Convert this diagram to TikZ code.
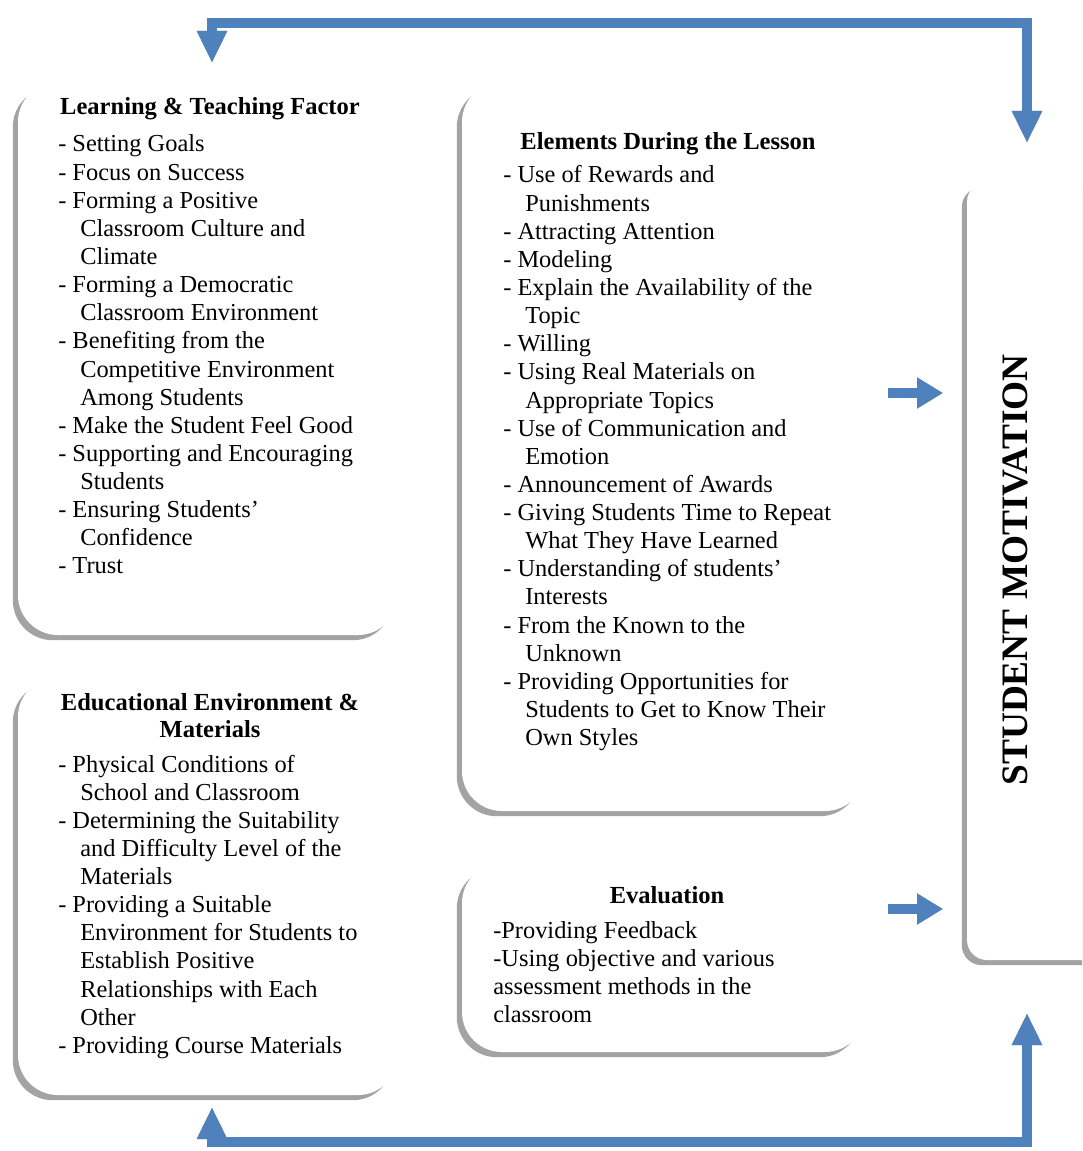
\documentclass[tikz,border=0pt]{standalone}
\usepackage{fontspec}
\setmainfont{Liberation Serif}
\usetikzlibrary{arrows.meta,shadows}

\definecolor{flowblue}{HTML}{4F81BD}
\definecolor{flowshade}{HTML}{9C9C9C}
\definecolor{panelshade}{HTML}{A3A3A3}

\newcommand{\cont}{\hspace*{16.5pt}}

\tikzset{
  panel/.style={rectangle, rounded corners=30pt, fill=white, draw=none,
    drop shadow={shadow xshift=-3.9pt, shadow yshift=-3.9pt, fill=panelshade, opacity=1}},
  bodytext/.style={inner sep=0pt, anchor=base west,
    font=\fontsize{18.3}{21.1}\selectfont},
  headtext/.style={inner sep=0pt, anchor=base,
    font=\fontsize{18.4}{20.3}\selectfont\bfseries},
  flowline/.style={line width=7.5pt, draw=flowblue, line join=miter},
  flowshadow/.style={line width=7.5pt, draw=flowshade, line join=miter},
  twohead/.style={{Triangle[width=21pt,length=24pt]}-{Triangle[width=21pt,length=24pt]}},
  onehead/.style={-{Triangle[width=22pt,length=19.5pt]}}
}

\begin{document}
\begin{tikzpicture}[x=0.75pt, y=-0.75pt]
\clip (0,0) rectangle (1082,1151);
\fill[white] (0,0) rectangle (1082,1151);

% panels
\node[panel, minimum width=285pt, minimum height=414.75pt] (learn) at (208,358.5) {};
\node[panel, minimum width=285pt, minimum height=313.5pt] (envir) at (208,886) {};
\node[panel, minimum width=302.25pt, minimum height=546.75pt] (lesson) at (663.5,446.5) {};
\node[panel, minimum width=302.25pt, minimum height=141.75pt] (evalu) at (663.5,957.5) {};
\node[panel, rounded corners=15pt, minimum width=122.25pt, minimum height=583.5pt] (motiv) at (1048.5,571) {};

% panel texts
\node[headtext] (learnhead) at (210,115) {Learning \& Teaching Factor};
\node[bodytext] (learnlist) at (58,152) {\begin{tabular}[t]{@{}l@{}}
- Setting Goals\\
- Focus on Success\\
- Forming a Positive\\
\cont Classroom Culture and\\
\cont Climate\\
- Forming a Democratic\\
\cont Classroom Environment\\
- Benefiting from the\\
\cont Competitive Environment\\
\cont Among Students\\
- Make the Student Feel Good\\
- Supporting and Encouraging\\
\cont Students\\
- Ensuring Students'\\
\cont Confidence\\
- Trust
\end{tabular}};

\node[headtext] (envirhead) at (210,710) {\begin{tabular}[t]{@{}c@{}}
Educational Environment \&\\ Materials\end{tabular}};
\node[bodytext] (envirlist) at (58,772) {\begin{tabular}[t]{@{}l@{}}
- Physical Conditions of\\
\cont School and Classroom\\
- Determining the Suitability\\
\cont and Difficulty Level of the\\
\cont Materials\\
- Providing a Suitable\\
\cont Environment for Students to\\
\cont Establish Positive\\
\cont Relationships with Each\\
\cont Other\\
- Providing Course Materials
\end{tabular}};

\node[headtext] (lessonhead) at (668,150) {Elements During the Lesson};
\node[bodytext] (lessonlist) at (503,183) {\begin{tabular}[t]{@{}l@{}}
- Use of Rewards and\\
\cont Punishments\\
- Attracting Attention\\
- Modeling\\
- Explain the Availability of the\\
\cont Topic\\
- Willing\\
- Using Real Materials on\\
\cont Appropriate Topics\\
- Use of Communication and\\
\cont Emotion\\
- Announcement of Awards\\
- Giving Students Time to Repeat\\
\cont What They Have Learned\\
- Understanding of students'\\
\cont Interests\\
- From the Known to the\\
\cont Unknown\\
- Providing Opportunities for\\
\cont Students to Get to Know Their\\
\cont Own Styles
\end{tabular}};

\node[headtext] (evaluhead) at (667,903) {Evaluation};
\node[bodytext] (evalulist) at (493,938) {\begin{tabular}[t]{@{}l@{}}
-Providing Feedback\\
-Using objective and various\\
assessment methods in the\\
classroom
\end{tabular}};

\node[rotate=90, inner sep=0pt, font=\fontsize{28}{30}\selectfont\bfseries]
  (motivtext) at (1015,570) {STUDENT MOTIVATION};

% connector end points
\coordinate (topL) at (212,63);
\coordinate (topLc) at (212,23);
\coordinate (topRc) at (1027,23);
\coordinate (topR) at (1027,143);
\coordinate (botL) at (212,1107);
\coordinate (botLc) at (212,1142);
\coordinate (botRc) at (1027,1142);
\coordinate (botR) at (1027,1013);
\coordinate (lessonOut) at (888,393);
\coordinate (lessonIn) at (943,393);
\coordinate (evaluOut) at (888,909);
\coordinate (evaluIn) at (943,909);

% shadows of the connectors
\begin{scope}[xshift=-0.9pt, yshift=-2.4pt]
\draw[flowshadow, twohead] (topL) -- (topLc) -- (topRc) -- (topR);
\draw[flowshadow, twohead] (botL) -- (botLc) -- (botRc) -- (botR);
\draw[flowshadow, onehead] (lessonOut) -- (lessonIn);
\draw[flowshadow, onehead] (evaluOut) -- (evaluIn);
\end{scope}

% connectors
\draw[flowline, twohead, flowblue] (topL) -- (topLc) -- (topRc) -- (topR);
\draw[flowline, twohead, flowblue] (botL) -- (botLc) -- (botRc) -- (botR);
\draw[flowline, onehead, flowblue] (lessonOut) -- (lessonIn);
\draw[flowline, onehead, flowblue] (evaluOut) -- (evaluIn);
\end{tikzpicture}
\end{document}
